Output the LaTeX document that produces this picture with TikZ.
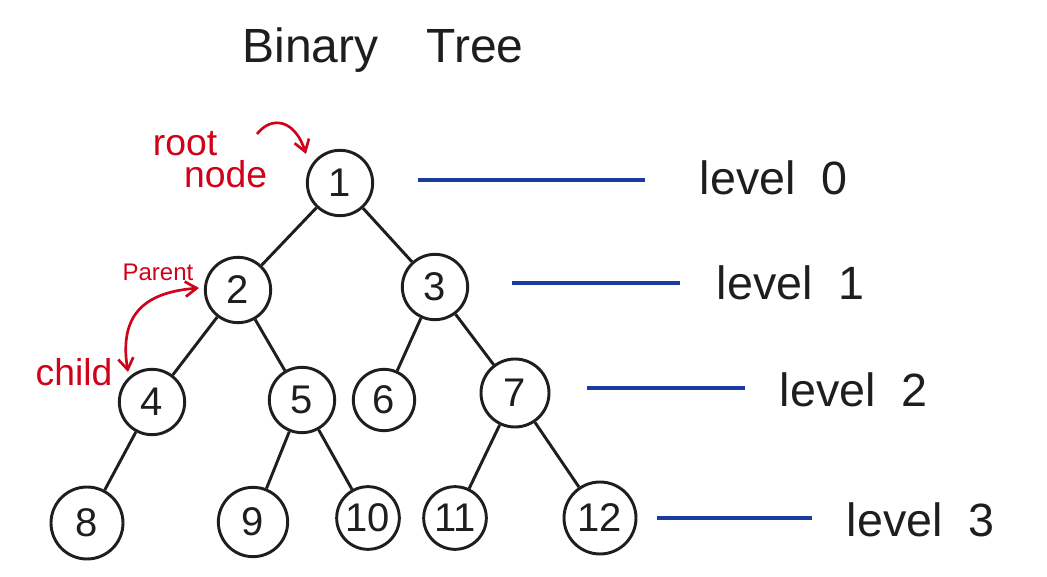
\documentclass[tikz,border=0pt]{standalone}
\usepackage{fontspec}
\setmainfont{Liberation Sans}
\usepackage{xcolor}
\definecolor{ink}{HTML}{1E1E1E}
\definecolor{lvlblue}{HTML}{1A3C9E}
\definecolor{note}{HTML}{D0021B}
\usetikzlibrary{arrows.meta,positioning}
\tikzset{
  >={Stealth[length=4mm,width=3.6mm,open]},
  tnode/.style={circle,draw=ink,line width=2.2pt,minimum size=49pt,inner sep=0pt,font=\fontsize{30}{30}\selectfont,text=ink},
  bignode/.style={tnode,minimum size=54pt},
  edge/.style={draw=ink,line width=2.2pt},
  lvlline/.style={draw=lvlblue,line width=2.3pt},
  lvltext/.style={font=\fontsize{35}{35}\selectfont,text=ink,anchor=west},
  redtext/.style={font=\fontsize{28}{28}\selectfont,text=note,align=left},
  redarr/.style={->,draw=note,line width=2pt,>={Straight Barb[length=3mm,width=4mm]}},
}
\begin{document}
\begin{tikzpicture}[x=0.75pt,y=-0.75pt]
\useasboundingbox (0,0) rectangle (1047,577);
% title
\node[font=\fontsize{36}{36}\selectfont,text=ink] (title) at (383,50) {Binary\quad Tree};
% tree nodes
\node[tnode] (n1) at (340,183) {1};
\node[tnode] (n2) at (238,290) {2};
\node[tnode] (n3) at (435,287) {3};
\node[tnode] (n4) at (152,402) {4};
\node[tnode] (n5) at (302,400) {5};
\node[tnode,minimum size=46pt] (n6) at (384,400) {6};
\node[tnode,minimum size=51pt] (n7) at (515,393) {7};
\node[bignode] (n8) at (87,523) {8};
\node[bignode,minimum size=52pt] (n9) at (253,522) {9};
\node[tnode,minimum size=47pt] (n10) at (368,518) {10};
\node[tnode,minimum size=47pt] (n11) at (455,518) {11};
\node[bignode] (n12) at (600,518) {12};
% edges
\foreach \a/\b in {n1/n2,n1/n3,n2/n4,n2/n5,n3/n6,n3/n7,n4/n8,n5/n9,n5/n10,n7/n11,n7/n12}
  \draw[edge] (\a) -- (\b);
% levels
\coordinate (l0a) at (418,180); \coordinate (l0b) at (645,180);
\coordinate (l1a) at (512,283); \coordinate (l1b) at (680,283);
\coordinate (l2a) at (587,388); \coordinate (l2b) at (745,388);
\coordinate (l3a) at (657,518); \coordinate (l3b) at (812,518);
\draw[lvlline] (l0a) -- (l0b);
\draw[lvlline] (l1a) -- (l1b);
\draw[lvlline] (l2a) -- (l2b);
\draw[lvlline] (l3a) -- (l3b);
\node[lvltext] (t0) at (695,178) {level\ \ 0};
\node[lvltext] (t1) at (712,283) {level\ \ 1};
\node[lvltext] (t2) at (775,390) {level\ \ 2};
\node[lvltext] (t3) at (842,520) {level\ \ 3};
% notes
\node[redtext] (root) at (210,160) {root\\[-4pt]\ \ \ node};
\coordinate (rs) at (257,134);
\draw[redarr] (rs) .. controls (272,115) and (295,120) .. (306,154);
\node[redtext,font=\fontsize{18}{18}\selectfont] (par) at (158,272) {Parent};
\node[redtext] (chl) at (74,372) {child};
\coordinate (pa) at (199,288);
\coordinate (ca) at (128,372);
\draw[redarr,<->] (pa) .. controls (150,292) and (118,310) .. (ca);
\end{tikzpicture}
\end{document}
